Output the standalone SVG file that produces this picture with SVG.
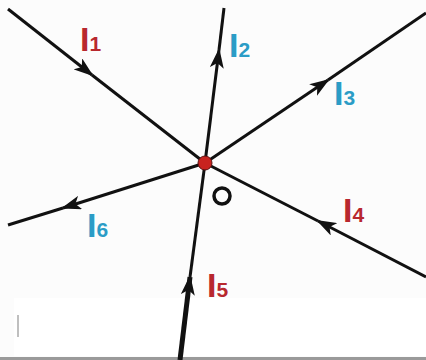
<svg xmlns="http://www.w3.org/2000/svg" width="426" height="360" viewBox="0 0 426 360">
<defs>
<marker id="ah" viewBox="0 0 20 14" refX="18" refY="7" markerWidth="20" markerHeight="14" markerUnits="userSpaceOnUse" orient="auto">
<path d="M0,0 L20,7 L0,14 L5,7 Z" fill="#111"/>
</marker>
<style>
.ln{stroke:#111;stroke-width:3;fill:none;stroke-linecap:butt}
.lbl{font-family:"Liberation Sans",Arial,sans-serif;font-weight:bold;font-size:34px}
.sub{font-size:21px}
.red{fill:#b8282e}
.blue{fill:#2b9cc6}
</style>
</defs>
<rect width="426" height="360" fill="#fcfcfc"/>
<rect x="14" y="298" width="412" height="58" fill="#ffffff"/>
<line x1="0" y1="358.5" x2="426" y2="358.5" stroke="#9a9a9a" stroke-width="3"/>
<line x1="18" y1="315" x2="18" y2="337" stroke="#aaa" stroke-width="1.5"/>
<g id="connectors">
<polyline class="ln" points="8,9 92,75" marker-end="url(#ah)"/>
<line class="ln" x1="92" y1="75" x2="205" y2="163"/>
<polyline class="ln" points="205,163 219,50" marker-end="url(#ah)"/>
<line class="ln" x1="219" y1="50" x2="224" y2="8"/>
<polyline class="ln" points="205,163 328,80" marker-end="url(#ah)"/>
<line class="ln" x1="328" y1="80" x2="426" y2="13"/>
<polyline class="ln" points="426,277 318,221" marker-end="url(#ah)"/>
<line class="ln" x1="318" y1="221" x2="205" y2="163"/>
<polyline class="ln" style="stroke-width:5" points="180,360 190,277" marker-end="url(#ah)"/>
<line class="ln" x1="190" y1="277" x2="205" y2="163"/>
<polyline class="ln" points="205,163 63,208" marker-end="url(#ah)"/>
<line class="ln" x1="63" y1="208" x2="8" y2="225"/>
</g>
<g id="node-O">
<circle cx="205" cy="163" r="7" fill="#c8231f" stroke="#5a1010" stroke-width="1"/>
<circle cx="222" cy="196" r="8" fill="none" stroke="#111" stroke-width="3.5"/>
</g>
<g id="label-I1"><text class="lbl red" x="80" y="51">I<tspan class="sub">1</tspan></text></g>
<g id="label-I2"><text class="lbl blue" x="229" y="57">I<tspan class="sub">2</tspan></text></g>
<g id="label-I3"><text class="lbl blue" x="334" y="105">I<tspan class="sub">3</tspan></text></g>
<g id="label-I4"><text class="lbl red" x="343" y="222">I<tspan class="sub">4</tspan></text></g>
<g id="label-I5"><text class="lbl red" x="207" y="297">I<tspan class="sub">5</tspan></text></g>
<g id="label-I6"><text class="lbl blue" x="87" y="237">I<tspan class="sub">6</tspan></text></g>
</svg>
